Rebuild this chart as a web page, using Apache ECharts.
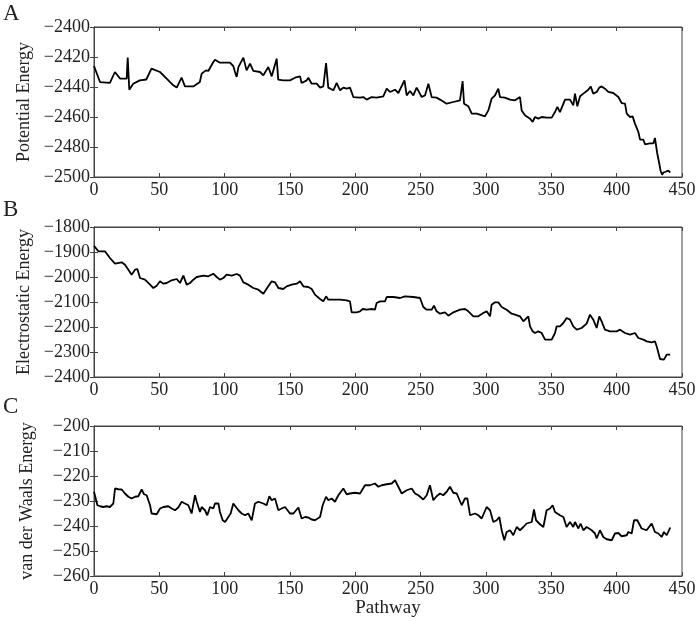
<!DOCTYPE html>
<html>
<head>
<meta charset="utf-8">
<script src="https://cdn.jsdelivr.net/npm/echarts@6/dist/echarts.min.js"></script>
<style>
html,body{margin:0;padding:0;background:#fff;}
#chart{width:700px;height:621px;}
</style>
</head>
<body>
<div id="chart"></div>
<script>
// ---- Data ----
var panelLetters = ["A", "B", "C"];
var yTitles = ["Potential Energy", "Electrostatic Energy", "van der Waals Energy"];
var xTitle = "Pathway";

var pathwayA = [0,1.3,4.6,12.2,16,20,25,25.8,27,30,35,40,44,50.5,55.6,60.7,63.3,67,69.6,76,81,82.4,85.7,87.5,91.3,92.6,96.4,104,106.6,107.9,109.2,110.5,114.3,116.8,119.4,121.9,127,129.6,133.4,136,139.8,141,144.9,150,153.8,157.7,158.9,162.8,164,166.6,170.4,173,175.5,177.6,179.3,183.2,185.7,188.3,190.8,193.4,195.9,198.5,203.6,206.1,208.7,212.5,216.3,221.4,224,226.5,230.4,232.9,237.6,239.3,241.8,244.4,246.9,250.8,253.3,255.9,258.4,262.2,264.8,269.9,275,280.1,282.1,283.2,286.5,289.1,292.9,299.2,301.8,304.3,306.9,309.4,310.7,314.5,318.4,322.2,326,327.3,329.8,333.7,335.7,337.5,340,342.6,346.4,350.3,352.8,354.6,356.6,360.5,364.3,366.8,368.1,369.9,372,374.5,378.3,380.1,382.1,384.7,386.7,388.5,391,393.6,397.4,401.3,403.8,406.4,407.7,410.2,412.2,414,416.6,417.9,420.4,421.7,425.5,428.1,429.3,431,432.6,433.6,434.8,435.7,437.5,439.5,441];
var potentialA = [-2426,-2427,-2436.7,-2437.3,-2430,-2434.4,-2434.4,-2420.4,-2441.8,-2437.8,-2435.6,-2435,-2427.8,-2430,-2434.4,-2438.9,-2440.4,-2433.8,-2439.6,-2439.6,-2436.7,-2431.1,-2428.9,-2429.3,-2423.3,-2421.8,-2423.8,-2423.8,-2426,-2430,-2433.3,-2426.7,-2420.4,-2428.9,-2424.4,-2429.3,-2430,-2432.2,-2426.7,-2432.9,-2421.1,-2435.1,-2435.6,-2435.6,-2433.8,-2432.9,-2437.3,-2435.6,-2433.8,-2437.8,-2437.8,-2440.4,-2439.6,-2424,-2440.4,-2442.2,-2437.3,-2442.2,-2440.4,-2441.1,-2440.4,-2446.7,-2447.1,-2446.7,-2448.4,-2446.7,-2447.1,-2446.2,-2441.1,-2443.3,-2441.8,-2444,-2435.6,-2445.6,-2442.7,-2445.6,-2440.4,-2446.7,-2445.6,-2437.8,-2446.7,-2447.1,-2448.4,-2451.1,-2450,-2448.9,-2436,-2451.1,-2452.9,-2457.8,-2457.8,-2459.6,-2455.6,-2447.8,-2445.6,-2441.1,-2446.7,-2447.1,-2448.4,-2448.9,-2446.7,-2455.6,-2458.9,-2461.1,-2463.3,-2460,-2461.1,-2460,-2460.4,-2460.4,-2456.7,-2453.3,-2456.7,-2448.4,-2448.4,-2452.2,-2444.4,-2452.9,-2446.2,-2444.4,-2441.8,-2439.6,-2444.4,-2443.3,-2440.4,-2439.6,-2441.1,-2443.3,-2444,-2446.7,-2450.7,-2451.1,-2457.8,-2460,-2459.6,-2464.4,-2470,-2475.1,-2475.1,-2478.2,-2477.6,-2477.6,-2474,-2484,-2491,-2495.8,-2498.5,-2497,-2496.5,-2495.8,-2497];

var pathwayB = [0,3.3,8.4,9.7,12.2,16.1,21.2,23.7,26.3,28.8,31.4,33.2,35.2,39,42.9,45.4,48,50.5,53.1,55.6,59.4,63.3,65.8,68.4,70.9,73.5,76,78.6,83.7,87.5,91.3,93.9,96.4,99,101.5,105.4,109.2,111.7,114.3,118.1,121.9,125.8,129.6,133.4,136,138.5,141.1,144.9,147.4,151.3,155.1,157.7,160.2,164,166.6,169.1,173,175.5,177.6,179.3,183.2,188.3,193.4,195.9,197.2,201,203.6,205.6,208.7,212.5,215,216.3,218.9,222.7,224,229.1,234.2,238,244.4,249.5,252,254.6,258.4,260.2,262.2,264.8,268.6,271.2,275,280.1,283.9,286.5,290.3,294.1,297.9,300.5,303.1,304.3,306.9,309.4,312,315.8,319.6,322.2,326,328.6,332.4,333.7,335.7,337.5,340,342.6,343.9,345.2,347.7,350.3,352.8,354.1,356.6,359.2,361.7,364.3,366.8,369.4,373.2,377,379.6,382.1,384.7,386.7,388.5,391,394.9,400,402.6,406.4,410.2,414,416.6,420.4,423,426.8,429.3,430.6,433.2,436.2,438.3,439.5,441];
var electroB = [-1874.7,-1897.3,-1897.3,-1890.7,-1924,-1946.7,-1941.3,-1950.7,-1970.7,-1990.7,-1970.7,-1968,-2004,-2010.7,-2030.7,-2044,-2034.7,-2017.3,-2026.7,-2024,-2013.3,-2008,-2024,-1994.7,-2030.7,-2024,-2010.7,-2000,-1994.7,-1997.3,-1986.7,-2000,-2010.7,-2004,-1990.7,-1994.7,-1988,-1994.7,-2021.3,-2030.7,-2044,-2050.7,-2066.7,-2037.3,-2017.3,-2021.3,-2044,-2048,-2037.3,-2030.7,-2026.7,-2017.3,-2037.3,-2040,-2048,-2070.7,-2088,-2097.3,-2077.3,-2090.7,-2090.7,-2090.7,-2093.3,-2097.3,-2141.3,-2141.3,-2137.3,-2128,-2130.7,-2128,-2130.7,-2104,-2097.3,-2097.3,-2080,-2080,-2084,-2077.3,-2080,-2084,-2120,-2130.7,-2130.7,-2114.7,-2137.3,-2146.7,-2141.3,-2154.7,-2141.3,-2130.7,-2128,-2137.3,-2157.3,-2157.3,-2144,-2137.3,-2157.3,-2110.7,-2101.3,-2101.3,-2120,-2130.7,-2146.7,-2150.7,-2157.3,-2177.3,-2157.3,-2197.3,-2217.3,-2224,-2217.3,-2224,-2237.3,-2250.7,-2250.7,-2250.7,-2224,-2197.3,-2197.3,-2184,-2164,-2170.7,-2197.3,-2210.7,-2204,-2186.7,-2150.7,-2170.7,-2204,-2157.3,-2177.3,-2210.7,-2217.3,-2217.3,-2210.7,-2224,-2230.7,-2224,-2244,-2250.7,-2257.3,-2261.3,-2257.3,-2277.3,-2328,-2330.7,-2310.7,-2306.7,-2310.7];

var pathwayC = [0,1.3,2.6,4.6,7.1,9.7,12.2,13.5,14.8,16.1,18.6,21.2,23.7,26.3,28.8,31.4,33.9,36.5,38.3,40.3,42.9,44.1,48,50.5,53.1,56.9,59.4,62,64.5,67.1,69.6,72.2,74.7,77.3,78.6,81.1,82.4,84.9,86.7,88.8,91.3,92.6,95.2,96.4,98.5,100.3,102.8,104.6,106.6,107.9,110.5,113,115.6,118.1,119.4,120.7,123.2,125.8,127,129.6,132.1,134.2,136,138.5,141.1,143.6,146.2,150,152.6,156.4,158.9,161.5,164,166.6,169.1,173,175,177.6,179.3,181.9,184.4,187,190.8,193.4,195.9,199.7,203.6,207.4,211.2,215,217.6,220.2,224,227.8,230.4,232.9,235.5,239.3,243.1,245.7,248.2,252,254.6,257.1,259.7,262.2,264.8,267.3,269.9,272.4,275,277.6,281.4,283.9,285.7,287.8,291.6,294.1,296.7,297.9,300.5,303.1,305.6,308.2,310.2,312,314,315.8,318.4,320.9,323.5,326,328.6,331.1,335,336.7,338.3,341.3,343.9,346.4,349,351,352.8,356.6,359.2,361.7,364.3,366.8,368.1,370.7,372.4,374.5,377,380.9,383.4,384.7,387.2,389.8,392.3,396.2,398.7,401.3,403.8,407.7,408.9,411.5,413.3,415.8,419.1,422.9,426.8,429.3,431.9,434.4,436.2,438.3,441];
var vdwC = [-226.3,-227,-231.7,-232.1,-232.4,-232.1,-232.4,-231.7,-231,-225,-225.3,-225.4,-227,-228.3,-229,-228.3,-228.1,-225.4,-227.3,-227.7,-231.7,-235,-235.3,-233,-232.4,-232.1,-233,-233.7,-232.6,-230.3,-231,-231.7,-235,-227.7,-230.3,-234.4,-232.4,-233.7,-235.7,-232.4,-233,-231,-231,-234.4,-237.7,-238.4,-236.4,-235,-231,-230.3,-233.7,-235,-235.7,-235,-236.4,-237.7,-231,-230.3,-230.3,-231,-231.7,-228.1,-229.7,-229,-233.7,-233,-232.4,-235,-235,-232.6,-237,-236.4,-236.6,-237.4,-237.7,-236.4,-231.7,-228.3,-229.7,-229,-230.3,-227.7,-225,-227.3,-227,-226.7,-227,-223.7,-223.7,-223,-224.3,-223.7,-223.3,-223,-221.7,-224.3,-227,-225.7,-225,-227,-227.7,-229.4,-227.7,-223.7,-229.7,-228.1,-227,-227.7,-226.3,-224.3,-226.7,-227,-231.7,-229,-229,-235.7,-235,-235.7,-237,-237,-232.4,-233.7,-238.4,-237.7,-236.4,-241.7,-245.7,-242.4,-241.7,-243.7,-240.4,-241.7,-240.4,-239,-238.4,-233.4,-237.7,-239.3,-240.4,-233.7,-233,-231.7,-234.4,-235.7,-236.4,-240.4,-238.4,-240.4,-238.4,-241,-239,-241.7,-240.4,-241.7,-243,-245,-241.7,-244.4,-245.3,-245.7,-243,-242.8,-244.1,-243.7,-242.4,-243,-237.7,-237.7,-241,-241.7,-239,-242.4,-243,-244.4,-242.4,-243.7,-240.6];

var xTicks = [0, 450, 50];            // min, max, interval
var yRanges = [[-2500, -2400, 20], [-2400, -1800, 100], [-260, -200, 10]];

// ---- Build chart ----
var FONT = "Liberation Serif";
var tops = [27, 227, 426];
var xs = [pathwayA, pathwayB, pathwayC];
var ys = [potentialA, electroB, vdwC];
function minus(v){ return String(v).replace('-', '\u2212'); }

var grids = [], xAxes = [], yAxes = [], series = [], graphics = [];
for (var i = 0; i < 3; i++) {
  grids.push({left: 94, right: 18, top: tops[i], height: 150, show: true,
              borderColor: '#444', borderWidth: 1, backgroundColor: 'transparent'});
  var tickStyle = {show: true, inside: true, length: 4, lineStyle: {color: '#444', width: 1}};
  xAxes.push({type: 'value', gridIndex: i, min: xTicks[0], max: xTicks[1], interval: xTicks[2],
    position: 'bottom', axisLine: {show: true, lineStyle: {color: '#444', width: 1}},
    axisTick: tickStyle, splitLine: {show: false},
    axisLabel: {fontFamily: FONT, fontSize: 18, color: '#222', margin: 4},
    name: i === 2 ? xTitle : '', nameLocation: 'middle', nameGap: 20,
    nameTextStyle: {fontFamily: FONT, fontSize: 19, color: '#222'}});
  xAxes.push({type: 'value', gridIndex: i, min: xTicks[0], max: xTicks[1], interval: xTicks[2],
    position: 'top', axisLine: {show: true, lineStyle: {color: '#444', width: 1}},
    axisTick: tickStyle, splitLine: {show: false}, axisLabel: {show: false}});
  var r = yRanges[i];
  yAxes.push({type: 'value', gridIndex: i, min: r[0], max: r[1], interval: r[2],
    position: 'left', axisLine: {show: true, lineStyle: {color: '#444', width: 1}},
    axisTick: tickStyle, splitLine: {show: false},
    axisLabel: {fontFamily: FONT, fontSize: 18, color: '#222', margin: 4, formatter: minus},
    name: yTitles[i], nameLocation: 'middle', nameGap: 58,
    nameTextStyle: {fontFamily: FONT, fontSize: 18, color: '#222'}});
  yAxes.push({type: 'value', gridIndex: i, min: r[0], max: r[1], interval: r[2],
    position: 'right', axisLine: {show: true, lineStyle: {color: '#444', width: 1}},
    axisTick: tickStyle, splitLine: {show: false}, axisLabel: {show: false}});
  var data = xs[i].map(function (x, k) { return [x, ys[i][k]]; });
  series.push({type: 'line', xAxisIndex: i * 2, yAxisIndex: i * 2, data: data,
    showSymbol: false, symbol: 'none', animation: false,
    lineStyle: {color: '#000', width: 1.8}, clip: true});
  graphics.push({type: 'text', left: 3, top: [2, 198, 395][i],
    style: {text: panelLetters[i], font: '23px "' + FONT + '"', fill: '#222'}});
}

var chart = echarts.init(document.getElementById('chart'), null, {renderer: 'canvas'});
chart.setOption({
  animation: false,
  backgroundColor: '#fff',
  grid: grids, xAxis: xAxes, yAxis: yAxes, series: series, graphic: graphics
});
</script>
</body>
</html>
